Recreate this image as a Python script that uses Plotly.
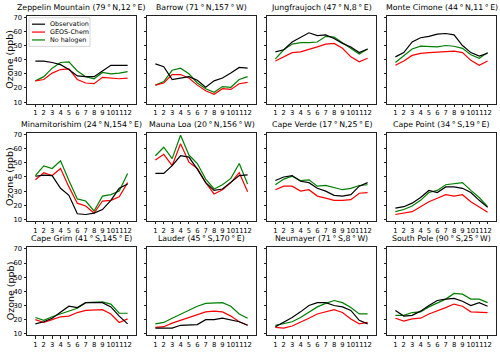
import plotly.graph_objects as go

W, H = 500, 352
FONT = "DejaVu Sans"

months = list(range(1, 13))
month_labels = [str(m) for m in months]
y_ticks = [10, 20, 30, 40, 50, 60, 70]

site_titles = [
    "Zeppelin Mountain (79\u2009°\u2009N,12\u2009°\u2009E)",
    "Barrow (71\u2009°\u2009N,157\u2009°\u2009W)",
    "Jungfraujoch (47\u2009°\u2009N,8\u2009°\u2009E)",
    "Monte Cimone (44\u2009°\u2009N,11\u2009°\u2009E)",
    "Minamitorishim (24\u2009°\u2009N,154\u2009°\u2009E)",
    "Mauna Loa (20\u2009°\u2009N,156\u2009°\u2009W)",
    "Cape Verde (17\u2009°\u2009N,25\u2009°\u2009E)",
    "Cape Point (34\u2009°\u2009S,19\u2009°\u2009E)",
    "Cape Grim (41\u2009°\u2009S,145\u2009°\u2009E)",
    "Lauder (45\u2009°\u2009S,170\u2009°\u2009E)",
    "Neumayer (71\u2009°\u2009S,8\u2009°\u2009W)",
    "South Pole (90\u2009°\u2009S,25\u2009°\u2009W)",
]

# observation, GEOS-Chem, no halogen (ppb), one list per site
obs_zeppelin = [39, 39, 38, 36.5, 33, 28.5, 28, 28, 32, 36, 36, 36]
gc_zeppelin = [25, 26, 30.5, 33, 33.5, 26, 23.5, 23, 27.5, 27, 26.5, 27]
nohal_zeppelin = [25, 28, 34, 38, 38.5, 32, 28, 26.5, 31, 30, 30.5, 31.5]

obs_barrow = [37, 35, 26, 27, 28, 25.5, 20.5, 25, 27, 30.5, 34.5, 34]
gc_barrow = [22, 23.5, 29.5, 29.5, 27, 22, 18, 15.5, 19.5, 19, 23, 24]
nohal_barrow = [22, 24.5, 32.5, 34, 30, 23.5, 19.5, 17, 21, 20.5, 26, 28]

obs_jungfrau = [45.5, 47, 52.5, 55.5, 59, 57, 57.5, 55, 51.5, 49, 45, 47.5]
gc_jungfrau = [39, 42, 45, 45.5, 47, 49, 51, 51.5, 48, 42, 38.5, 41]
nohal_jungfrau = [40.5, 47, 51, 52, 52, 52.5, 56.5, 56, 52, 48, 44, 47.5]

obs_cimone = [42, 45, 52.5, 55.5, 56.5, 58, 58.5, 57.5, 50, 45, 42.5, 44.5]
gc_cimone = [36, 39, 43, 44.5, 45, 45.5, 45.5, 46, 45, 39.5, 36, 39]
nohal_cimone = [38, 42.5, 47.5, 49.5, 49.5, 49, 50, 49.5, 48, 43.5, 41, 45]

obs_minami = [40.5, 41.3, 41, 32, 27, 14, 13.5, 14.5, 17, 23.5, 32, 35]
gc_minami = [38, 43, 41, 46, 33, 21.5, 19.5, 14.5, 23, 23.5, 26, 36]
nohal_minami = [41, 47.8, 46, 51.5, 37.5, 24.5, 23, 16, 26.5, 27.5, 30, 42.5]

obs_maunaloa = [42.5, 42.5, 48, 55, 54, 45.5, 36, 30.5, 31.5, 36, 41, 41.5]
gc_maunaloa = [52, 56, 48, 63.5, 50.5, 46, 36, 28, 31, 36, 43, 29.5]
nohal_maunaloa = [55, 61, 53, 69.5, 55.5, 49.5, 38.5, 31.5, 34.5, 39, 49.5, 35]

obs_capeverde = [37.5, 40, 41, 37, 36, 32, 30, 27, 26.5, 27.5, 33.5, 36]
gc_capeverde = [31, 33.5, 33.5, 30, 31, 26.5, 25, 23.5, 23.5, 24, 28.5, 29]
nohal_capeverde = [34.5, 38.5, 40.5, 37.5, 38, 33.5, 34, 32.5, 31, 32, 34, 34.5]

obs_capepoint = [18, 19, 21.5, 25.5, 30.5, 29, 33, 33, 32, 29, 23.5, 18.5]
gc_capepoint = [13.5, 14.5, 15.5, 19, 22.5, 25, 27.5, 26.5, 27.5, 22.5, 19, 15]
nohal_capepoint = [15.5, 17, 19.5, 23.5, 29, 30.5, 34.5, 35, 36, 30.5, 25.5, 19]

obs_capegrim = [17, 18.5, 21, 25, 29.5, 28.5, 32, 32, 32, 29, 22.5, 17]
gc_capegrim = [20, 18, 20, 22, 22.5, 25, 26.5, 27, 27, 24, 18, 20.5]
nohal_capegrim = [21.5, 19.5, 22, 24, 26, 28, 32, 32, 32.5, 31, 24.5, 24.5]

obs_lauder = [14, 14, 14, 16, 16.5, 16.5, 20, 20, 21, 20, 18.5, 16]
gc_lauder = [14.5, 15, 17.5, 19.5, 21.5, 24, 25.5, 26, 25.5, 22.5, 18.5, 16]
nohal_lauder = [17, 18, 21, 24, 26.5, 29.5, 31.5, 32, 32, 29.5, 24, 21]

obs_neumayer = [15, 18, 21.5, 25.5, 30, 32, 32, 30, 29, 26.5, 19.5, 17]
gc_neumayer = [14.5, 14, 15.5, 18, 21, 24, 25.5, 27, 25, 20.5, 17, 18]
nohal_neumayer = [16, 17, 18.5, 21.5, 25, 29, 31.5, 33.5, 32, 28.5, 24, 24]

obs_southpole = [26.5, 22.5, 23, 26, 30, 33.5, 34.5, 35, 33, 30, 32, 29.5]
gc_southpole = [21, 19, 20.5, 21, 24, 26, 28.5, 31, 29.5, 25.5, 25.5, 25]
nohal_southpole = [23, 23, 25, 25.5, 29, 31.5, 34.5, 38.5, 38, 34.5, 34.5, 32]

site_data = [
    (obs_zeppelin, gc_zeppelin, nohal_zeppelin),
    (obs_barrow, gc_barrow, nohal_barrow),
    (obs_jungfrau, gc_jungfrau, nohal_jungfrau),
    (obs_cimone, gc_cimone, nohal_cimone),
    (obs_minami, gc_minami, nohal_minami),
    (obs_maunaloa, gc_maunaloa, nohal_maunaloa),
    (obs_capeverde, gc_capeverde, nohal_capeverde),
    (obs_capepoint, gc_capepoint, nohal_capepoint),
    (obs_capegrim, gc_capegrim, nohal_capegrim),
    (obs_lauder, gc_lauder, nohal_lauder),
    (obs_neumayer, gc_neumayer, nohal_neumayer),
    (obs_southpole, gc_southpole, nohal_southpole),
]

series_names = ["Observation", "GEOS-Chem", "No halogen"]
series_colors = ["#000000", "#ff0000", "#008000"]


def px_x(x):
    return x / W


def px_y(y):
    return 1 - y / H


# panel geometry in pixels
col_left = [27, 147, 267, 387]
panel_w = 109
row_top = [14, 133, 249]
panel_h = 89

fig = go.Figure()
annotations = []
shapes = []

for i, (title, series) in enumerate(zip(site_titles, site_data)):
    r, c = divmod(i, 4)
    n = i + 1
    xa = "xaxis" if n == 1 else f"xaxis{n}"
    ya = "yaxis" if n == 1 else f"yaxis{n}"
    xref = "x" if n == 1 else f"x{n}"
    yref = "y" if n == 1 else f"y{n}"

    # green first, then red, black on top
    for k in (2, 1, 0):
        fig.add_trace(go.Scatter(
            x=months, y=series[k], mode="lines",
            line=dict(color=series_colors[k], width=1.2),
            name=series_names[k], showlegend=False, hoverinfo="skip",
            xaxis=xref, yaxis=yref,
        ))

    x0, x1 = col_left[c], col_left[c] + panel_w
    y0, y1 = row_top[r], row_top[r] + panel_h
    fig.layout[xa] = dict(
        domain=[px_x(x0), px_x(x1)], anchor=yref, range=[0, 13],
        tickvals=months, ticktext=month_labels, tickangle=0,
        showline=True, mirror=True, linecolor="#222", linewidth=1,
        ticks="outside", ticklen=2.5, tickwidth=0.8, tickcolor="#222",
        showgrid=False, zeroline=False,
        tickfont=dict(family=FONT, size=6.8, color="#000"),
    )
    fig.layout[ya] = dict(
        domain=[px_y(y1), px_y(y0)], anchor=xref, range=[9, 71],
        tickvals=y_ticks, showticklabels=(c == 0),
        showline=True, mirror=True, linecolor="#222", linewidth=1,
        ticks="outside", ticklen=2.5, tickwidth=0.8, tickcolor="#222",
        showgrid=False, zeroline=False,
        tickfont=dict(family=FONT, size=6.8, color="#000"),
    )
    annotations.append(dict(
        text=title, x=px_x((x0 + x1) / 2), y=px_y(y0 - 2),
        xref="paper", yref="paper", xanchor="center", yanchor="bottom",
        showarrow=False, font=dict(family=FONT, size=7.8, color="#000"),
    ))

for r in range(3):
    annotations.append(dict(
        text="Ozone (ppb)", x=px_x(10), y=px_y(row_top[r] + panel_h / 2),
        xref="paper", yref="paper", xanchor="center", yanchor="middle",
        textangle=-90, showarrow=False,
        font=dict(family=FONT, size=9.5, color="#000"),
    ))

# legend box inside first panel
shapes.append(dict(
    type="rect", xref="paper", yref="paper",
    x0=px_x(29), x1=px_x(90), y0=px_y(45), y1=px_y(16),
    line=dict(color="#cccccc", width=0.8), fillcolor="rgba(255,255,255,0.85)",
    layer="above",
))
for k, (name, color) in enumerate(zip(series_names, series_colors)):
    yy = 22.5 + 8 * k
    shapes.append(dict(
        type="line", xref="paper", yref="paper",
        x0=px_x(32), x1=px_x(45), y0=px_y(yy), y1=px_y(yy),
        line=dict(color=color, width=1.2), layer="above",
    ))
    annotations.append(dict(
        text=name, x=px_x(48), y=px_y(yy), xref="paper", yref="paper",
        xanchor="left", yanchor="middle", showarrow=False,
        font=dict(family=FONT, size=6.4, color="#000"),
    ))

fig.update_layout(
    width=W, height=H,
    margin=dict(l=0, r=0, t=0, b=0),
    paper_bgcolor="white", plot_bgcolor="white",
    showlegend=False,
    annotations=annotations,
    shapes=shapes,
)

# the page's default body margin would shift the figure by 8px
fig.write_html("out.html", config={"displayModeBar": False},
               post_script="document.body.style.margin='0px';")
